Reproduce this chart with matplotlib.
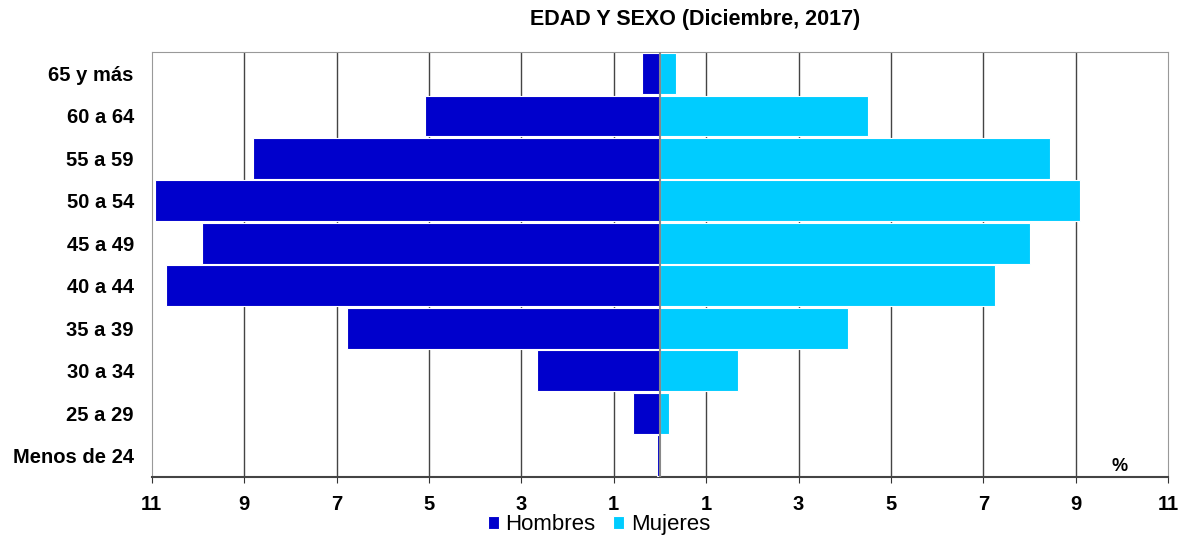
import numpy as np
import matplotlib.pyplot as plt

plt.rcParams['font.family'] = ['Liberation Sans', 'DejaVu Sans']

grupos = ['Menos de 24', '25 a 29', '30 a 34', '35 a 39', '40 a 44',
          '45 a 49', '50 a 54', '55 a 59', '60 a 64', '65 y más']
hombres = [0.06, 0.58, 2.66, 6.78, 10.70, 9.92, 10.94, 8.81, 5.09, 0.39]
mujeres = [0.0, 0.20, 1.69, 4.07, 7.25, 8.01, 9.09, 8.45, 4.50, 0.35]
ticks = [-11, -9, -7, -5, -3, -1, 1, 3, 5, 7, 9, 11]

fig = plt.figure(figsize=(11.86, 5.38), dpi=100)
ax = fig.add_axes([0.128, 0.1134, 0.857, 0.7896])

y = np.arange(len(grupos))
ax.barh(y, -np.array(hombres), height=0.96, color='#0000CC', edgecolor='white',
        linewidth=0.8, label='Hombres', zorder=3)
ax.barh(y, mujeres, height=0.96, color='#00CCFF', edgecolor='white',
        linewidth=0.8, label='Mujeres', zorder=3)

ax.set_xlim(-11, 11)
ax.set_ylim(-0.5, len(grupos) - 0.5)
ax.set_xticks(ticks)
ax.set_xticklabels([str(abs(t)) for t in ticks], fontsize=14.5, fontweight='bold')
ax.set_yticks(y)
ax.set_yticklabels(grupos, fontsize=14.5, fontweight='bold')
ax.tick_params(axis='y', length=0, pad=13)
ax.tick_params(axis='x', length=4, color='#333333', pad=9)

for t in ticks[1:-1]:
    ax.axvline(t, color='#444444', linewidth=1, zorder=1)
ax.axvline(0, color='#888888', linewidth=1.5, zorder=4)

for s in ['top', 'right', 'left']:
    ax.spines[s].set_color('#999999')
ax.spines['bottom'].set_color('#444444')
ax.spines['bottom'].set_linewidth(1.5)

ax.text(9.95, -0.45, '%', fontsize=13, fontweight='bold', ha='center', va='bottom')
fig.text(0.586, 0.963, 'EDAD Y SEXO (Diciembre, 2017)', fontsize=15.5,
         fontweight='bold', ha='center', va='center')

ax.legend(loc='center', bbox_to_anchor=(0.44, -0.113), ncol=2, frameon=False,
          fontsize=16, handlelength=0.5, handleheight=0.5, handletextpad=0.3,
          columnspacing=0.8, borderaxespad=0, borderpad=0)

fig.savefig('out.png', dpi=100)
